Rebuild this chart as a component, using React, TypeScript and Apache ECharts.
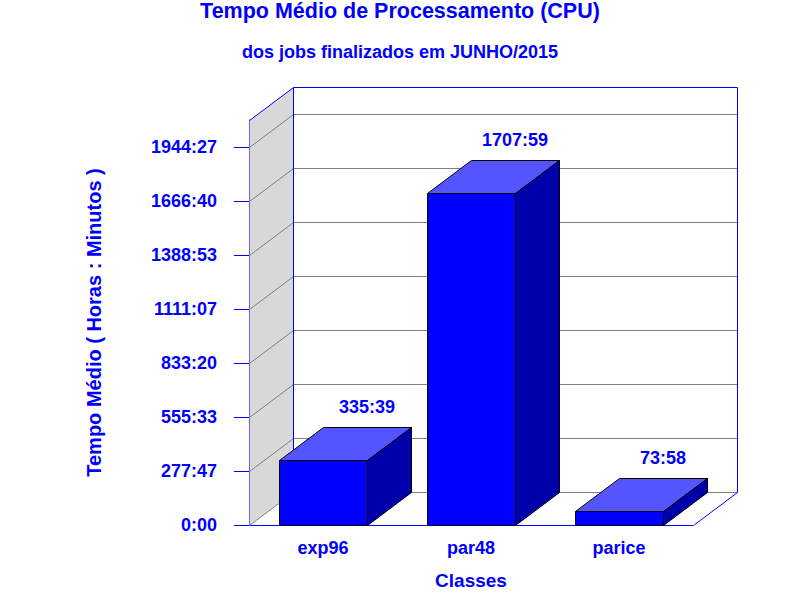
import { useEffect, useRef } from "react";
import * as echarts from "echarts";

// Tempo médio de CPU por classe (junho/2015), desenhado com barras "3D"
const TITLE = "Tempo Médio de Processamento (CPU)";
const SUBTITLE = "dos jobs finalizados em JUNHO/2015";
const CATEGORIES = ["exp96", "par48", "parice"];
const VALUES = ["335:39", "1707:59", "73:58"]; // horas:minutos
const Y_TICKS = ["0:00", "277:47", "555:33", "833:20", "1111:07", "1388:53", "1666:40", "1944:27"];
const Y_MAX = "2083:20";

const BLUE = "#0000FF";
const FONT = "'Liberation Sans', Arial, sans-serif";
const DX = 44; // profundidade do efeito 3D
const DY = -33;
const BAR_RATIO = 0.6;

const toMin = (s: string) => {
  const [h, m] = s.split(":").map(Number);
  return h * 60 + m;
};
const fmt = (v: number) => {
  const t = Math.round(v);
  return `${Math.floor(t / 60)}:${String(t % 60).padStart(2, "0")}`;
};
// linhas de 1px nítidas
const c = (v: number) => Math.round(v) + 0.5;

const seg = (a: number[], b: number[], stroke: string) => ({
  type: "line",
  shape: { x1: a[0], y1: a[1], x2: b[0], y2: b[1] },
  style: { stroke, lineWidth: 1 },
});

export default function App() {
  const ref = useRef<HTMLDivElement>(null);

  useEffect(() => {
    document.body.style.margin = "0";
    if (!ref.current) return;
    const chart = echarts.init(ref.current, undefined, { renderer: "svg" });
    const tickValues = Y_TICKS.map(toMin);

    chart.setOption({
      animation: false,
      title: [
        {
          text: TITLE,
          left: "center",
          top: 0,
          padding: 0,
          textStyle: { color: BLUE, fontSize: 21.5, fontWeight: "bold", fontFamily: FONT },
        },
        {
          text: SUBTITLE,
          left: "center",
          top: 43,
          padding: 0,
          textStyle: { color: BLUE, fontSize: 18, fontWeight: "bold", fontFamily: FONT },
        },
      ],
      grid: { left: 249, right: 107, top: 120, bottom: 75 },
      xAxis: {
        type: "category",
        data: CATEGORIES,
        name: "Classes",
        nameLocation: "middle",
        nameGap: 46,
        nameTextStyle: { color: BLUE, fontSize: 19, fontWeight: "bold", fontFamily: FONT },
        axisLine: { lineStyle: { color: BLUE, width: 1 } },
        axisTick: { show: false },
        axisLabel: { color: BLUE, fontSize: 18, fontWeight: "bold", fontFamily: FONT, margin: 14 },
        splitLine: { show: false },
      },
      yAxis: {
        type: "value",
        min: 0,
        max: toMin(Y_MAX),
        name: "Tempo Médio ( Horas : Minutos )",
        nameLocation: "middle",
        nameGap: 145,
        nameTextStyle: { color: BLUE, fontSize: 20, fontWeight: "bold", fontFamily: FONT },
        axisLine: { show: true, lineStyle: { color: BLUE, width: 1 } },
        axisTick: { show: true, length: 15, customValues: tickValues, lineStyle: { color: BLUE } },
        axisLabel: {
          customValues: tickValues,
          formatter: (v: number) => fmt(v),
          color: BLUE,
          fontSize: 18,
          fontWeight: "bold",
          fontFamily: FONT,
          margin: 32,
        },
        splitLine: { show: false },
      },
      series: [
        {
          // paredes (lateral e fundo) com linhas de grade
          type: "custom",
          z: 1,
          silent: true,
          data: [[0, 0]],
          renderItem: (params: any, api: any) => {
            const cs = params.coordSys;
            const x0 = c(cs.x);
            const x1 = c(cs.x + cs.width);
            const yT = c(cs.y);
            const yB = c(cs.y + cs.height);
            const children: any[] = [
              {
                type: "polygon",
                shape: { points: [[x0, yT], [x0 + DX, yT + DY], [x0 + DX, yB + DY], [x0, yB]] },
                style: { fill: "#D8D8D8" },
              },
            ];
            tickValues.forEach((v) => {
              const y = c(api.coord([0, v])[1]);
              children.push(seg([x0, y], [x0 + DX, y + DY], "#808080"));
              children.push(seg([x0 + DX, y + DY], [x1 + DX, y + DY], "#808080"));
            });
            // contorno azul das paredes
            children.push(seg([x0, yT], [x0 + DX, yT + DY], BLUE));
            children.push(seg([x0 + DX, yT + DY], [x1 + DX, yT + DY], BLUE));
            children.push(seg([x1 + DX, yT + DY], [x1 + DX, yB + DY], BLUE));
            children.push(seg([x1 + DX, yB + DY], [x1, yB], BLUE));
            children.push(seg([x0 + DX, yT + DY], [x0 + DX, yB + DY], BLUE));
            return { type: "group", children };
          },
        },
        {
          // barras 3D
          type: "custom",
          z: 2,
          data: VALUES.map((v, i) => [i, toMin(v)]),
          encode: { x: 0, y: 1 },
          renderItem: (params: any, api: any) => {
            const idx = api.value(0);
            const val = api.value(1);
            const top = api.coord([idx, val]);
            const base = api.coord([idx, 0]);
            const w = api.size([1, 0])[0] * BAR_RATIO;
            const l = c(top[0] - w / 2);
            const r = c(top[0] + w / 2);
            const yt = c(top[1]);
            const yb = c(base[1]);
            const edge = { stroke: "#000000", lineWidth: 1 };
            return {
              type: "group",
              children: [
                {
                  type: "rect",
                  shape: { x: l, y: yt, width: r - l, height: yb - yt },
                  style: { fill: "#0000FF", ...edge },
                },
                {
                  type: "polygon",
                  shape: { points: [[l, yt], [l + DX, yt + DY], [r + DX, yt + DY], [r, yt]] },
                  style: { fill: "#5555FF", ...edge },
                },
                {
                  type: "polygon",
                  shape: { points: [[r, yt], [r + DX, yt + DY], [r + DX, yb + DY], [r, yb]] },
                  style: { fill: "#0000AA", ...edge },
                },
                {
                  type: "text",
                  x: top[0] + DX,
                  y: top[1] + DY - 20,
                  style: {
                    text: fmt(val),
                    fill: BLUE,
                    font: `bold 18px ${FONT}`,
                    align: "center",
                    verticalAlign: "middle",
                  },
                },
              ],
            };
          },
        },
      ],
    });

    return () => chart.dispose();
  }, []);

  return <div ref={ref} style={{ width: 800, height: 600 }} />;
}
